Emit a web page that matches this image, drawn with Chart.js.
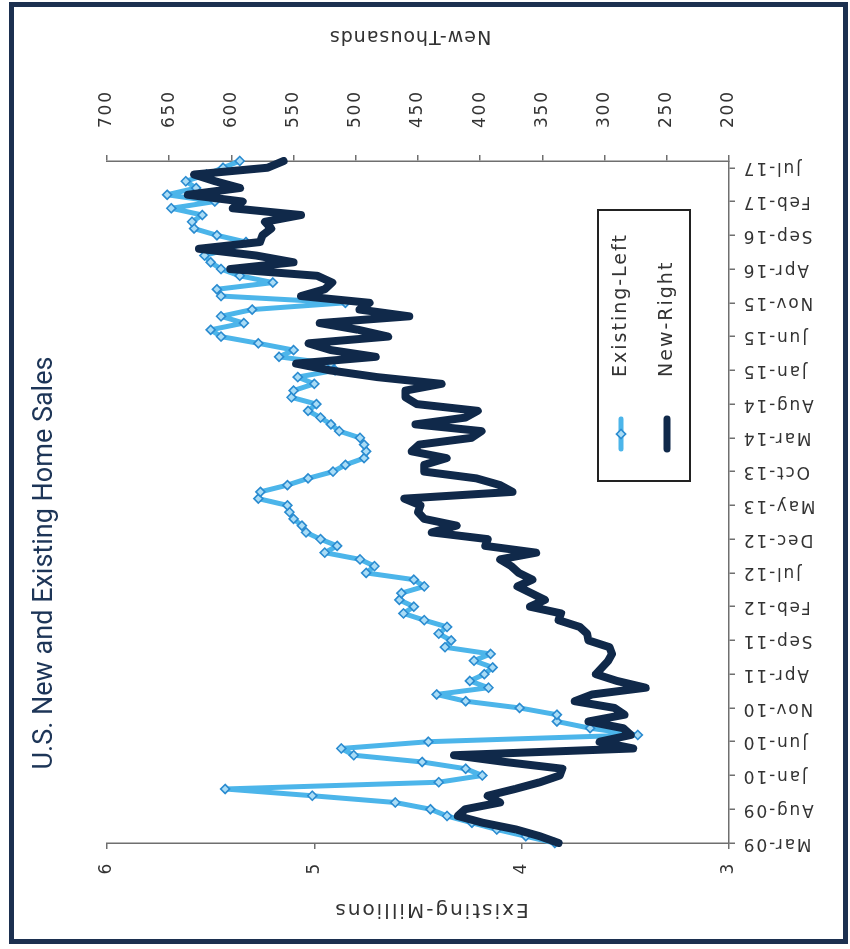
<!DOCTYPE html>
<html>
<head>
<meta charset="utf-8">
<script src="https://cdn.jsdelivr.net/npm/chart.js@4.4.1/dist/chart.umd.min.js"></script>
<style>
  html, body { margin: 0; padding: 0; background: #ffffff; overflow: hidden; }
  body { width: 850px; height: 949px; position: relative; }
  /* the chart is laid out landscape and turned a quarter turn counter-clockwise */
  #turn { position: absolute; left: 0; top: 0; width: 949px; height: 850px;
          transform-origin: 0 0; transform: translate(0px, 949px) rotate(-90deg); }
  #frame { position: absolute; left: 9px; top: 2px; width: 829px; height: 932px;
           border: 5px solid #1c3050; box-sizing: content-box; pointer-events: none; }
</style>
</head>
<body>
<div id="turn"><canvas id="c" width="949" height="850"></canvas></div>
<div id="frame"></div>
<script>
// Monthly categories, Mar-09 .. Aug-17
const months = [
  'Mar-09','Apr-09','May-09','Jun-09','Jul-09','Aug-09','Sep-09','Oct-09','Nov-09','Dec-09',
  'Jan-10','Feb-10','Mar-10','Apr-10','May-10','Jun-10','Jul-10','Aug-10','Sep-10','Oct-10','Nov-10','Dec-10',
  'Jan-11','Feb-11','Mar-11','Apr-11','May-11','Jun-11','Jul-11','Aug-11','Sep-11','Oct-11','Nov-11','Dec-11',
  'Jan-12','Feb-12','Mar-12','Apr-12','May-12','Jun-12','Jul-12','Aug-12','Sep-12','Oct-12','Nov-12','Dec-12',
  'Jan-13','Feb-13','Mar-13','Apr-13','May-13','Jun-13','Jul-13','Aug-13','Sep-13','Oct-13','Nov-13','Dec-13',
  'Jan-14','Feb-14','Mar-14','Apr-14','May-14','Jun-14','Jul-14','Aug-14','Sep-14','Oct-14','Nov-14','Dec-14',
  'Jan-15','Feb-15','Mar-15','Apr-15','May-15','Jun-15','Jul-15','Aug-15','Sep-15','Oct-15','Nov-15','Dec-15',
  'Jan-16','Feb-16','Mar-16','Apr-16','May-16','Jun-16','Jul-16','Aug-16','Sep-16','Oct-16','Nov-16','Dec-16',
  'Jan-17','Feb-17','Mar-17','Apr-17','May-17','Jun-17','Jul-17','Aug-17'
];

// Existing home sales, millions (left axis)
const existing = [
  3.84, 3.98, 4.12, 4.24, 4.36, 4.44, 4.61, 5.01, 5.43, 4.40,
  4.19, 4.27, 4.48, 4.81, 4.87, 4.45, 3.44, 3.67, 3.83, 3.83,
  4.01, 4.27, 4.41, 4.16, 4.25, 4.18, 4.14, 4.23, 4.15, 4.37,
  4.34, 4.40, 4.36, 4.47, 4.57, 4.52, 4.59, 4.58, 4.47, 4.52,
  4.75, 4.71, 4.78, 4.95, 4.89, 4.97, 5.04, 5.06, 5.10, 5.12,
  5.13, 5.27, 5.26, 5.13, 5.03, 4.91, 4.85, 4.76, 4.75, 4.76,
  4.78, 4.88, 4.92, 4.97, 5.03, 4.99, 5.11, 5.10, 5.00, 5.08,
  4.90, 4.92, 5.17, 5.10, 5.27, 5.45, 5.50, 5.34, 5.45, 5.30,
  4.85, 5.45, 5.47, 5.20, 5.36, 5.45, 5.50, 5.53, 5.41, 5.33,
  5.47, 5.58, 5.59, 5.54, 5.69, 5.48, 5.71, 5.57, 5.62, 5.52,
  5.44, 5.36
];

// New home sales, thousands (right axis)
const newSales = [
  337, 352, 371, 398, 418, 412, 384, 394, 372, 352,
  336, 334, 380, 421, 277, 304, 279, 285, 313, 284,
  292, 324, 310, 267, 290, 307, 302, 297, 294, 296,
  313, 314, 320, 337, 335, 360, 348, 359, 370, 358,
  369, 375, 384, 355, 396, 394, 439, 419, 445, 450,
  448, 461, 374, 384, 403, 445, 445, 427, 455, 449,
  407, 399, 452, 412, 402, 451, 460, 460, 431, 483,
  521, 548, 484, 520, 538, 474, 498, 529, 457, 497,
  489, 544, 525, 519, 531, 601, 550, 580, 626, 577,
  575, 568, 573, 544, 599, 591, 635, 593, 613, 630,
  571, 558
];

const titleText = 'U.S. New and Existing Home Sales';
const leftTitle = 'Existing-Millions';
const rightTitle = 'New-Thousands';
const seriesNames = ['Existing-Left', 'New-Right'];

const lightBlue = '#4cb5ea';
const markerEdge = '#2a8bd0';
const markerFill = '#a9dcf6';
const navy = '#10294a';
const axisColor = '#6f6f6f';
const textColor = '#333333';
const tickFont = { family: 'DejaVu Sans', size: 17 };

function rotatedText(ctx, text, x, y, font, spacing, color) {
  ctx.save();
  ctx.translate(x, y);
  ctx.rotate(-Math.PI / 2);
  ctx.font = font;
  ctx.letterSpacing = spacing;
  ctx.fillStyle = color;
  ctx.textAlign = 'center';
  ctx.textBaseline = 'alphabetic';
  ctx.fillText(text, 0, 0);
  ctx.restore();
}

function diamond(ctx, x, y, r) {
  ctx.beginPath();
  ctx.moveTo(x, y - r); ctx.lineTo(x + r, y); ctx.lineTo(x, y + r); ctx.lineTo(x - r, y);
  ctx.closePath();
}

const decorations = {
  id: 'decorations',
  beforeUpdate(chart) { chart.ctx.letterSpacing = '1.8px'; },
  beforeDraw(chart) { chart.ctx.letterSpacing = '1.8px'; },
  afterDatasetsDraw(chart) {
    const ctx = chart.ctx;
    ctx.save();
    // legend box
    ctx.fillStyle = '#ffffff';
    ctx.fillRect(468, 598, 271, 92);
    ctx.strokeStyle = '#222222';
    ctx.lineWidth = 2;
    ctx.strokeRect(468, 598, 271, 92);
    ctx.lineCap = 'round';
    ctx.strokeStyle = lightBlue; ctx.lineWidth = 5;
    ctx.beginPath(); ctx.moveTo(500, 621); ctx.lineTo(530, 621); ctx.stroke();
    diamond(ctx, 515, 621, 4.5);
    ctx.fillStyle = markerFill; ctx.fill();
    ctx.strokeStyle = markerEdge; ctx.lineWidth = 1.6; ctx.stroke();
    ctx.strokeStyle = navy; ctx.lineWidth = 7;
    ctx.beginPath(); ctx.moveTo(500, 667); ctx.lineTo(530, 667); ctx.stroke();
    ctx.font = '19px "DejaVu Sans"';
    ctx.letterSpacing = '2px';
    ctx.fillStyle = textColor;
    ctx.textAlign = 'left';
    ctx.textBaseline = 'middle';
    ctx.fillText(seriesNames[0], 572, 621);
    ctx.fillText(seriesNames[1], 572, 667);
    ctx.restore();
  },
  afterDraw(chart) {
    const ctx = chart.ctx;
    ctx.save();
    ctx.letterSpacing = '0px';
    ctx.font = '27px Roboto';
    ctx.fillStyle = '#1d3557';
    ctx.textAlign = 'center';
    ctx.textBaseline = 'alphabetic';
    ctx.fillText(titleText, 386, 52);
    ctx.restore();
    rotatedText(ctx, leftTitle, 45, 431, '20px "DejaVu Sans"', '2px', textColor);
    rotatedText(ctx, rightTitle, 918, 410, '19px "DejaVu Sans"', '1px', textColor);
  }
};

const ctx = document.getElementById('c').getContext('2d');
new Chart(ctx, {
  type: 'line',
  data: {
    labels: months,
    datasets: [
      {
        label: seriesNames[0], data: existing, yAxisID: 'yL', order: 2,
        borderColor: lightBlue, borderWidth: 5, tension: 0,
        borderJoinStyle: 'round', borderCapStyle: 'round',
        pointStyle: 'rectRot', pointRadius: 4.5, pointBorderWidth: 1.6,
        pointBorderColor: markerEdge, pointBackgroundColor: markerFill
      },
      {
        label: seriesNames[1], data: newSales, yAxisID: 'yR', order: 1,
        borderColor: navy, borderWidth: 8, tension: 0,
        borderJoinStyle: 'round', borderCapStyle: 'round',
        pointRadius: 0
      }
    ]
  },
  options: {
    responsive: false,
    animation: false,
    devicePixelRatio: 1,
    layout: { padding: { top: 107, left: 0, right: 0, bottom: 0 } },
    plugins: { legend: { display: false }, tooltip: { enabled: false }, title: { display: false } },
    scales: {
      x: {
        type: 'category', position: 'bottom', offset: false,
        grid: { display: true, drawOnChartArea: false, drawTicks: true, tickLength: 6, color: axisColor, lineWidth: 1.5 },
        border: { display: true, color: axisColor, width: 1.5 },
        ticks: { autoSkip: false, minRotation: 90, maxRotation: 90, padding: 7, color: textColor, font: tickFont },
        afterBuildTicks: (s) => { s.ticks = s.ticks.filter(t => t.value % 5 === 0); },
        afterFit: (s) => { s.height = 121; }
      },
      yL: {
        type: 'linear', position: 'left', min: 3, max: 6,
        grid: { display: true, drawOnChartArea: false, drawTicks: true, tickLength: 6, color: axisColor, lineWidth: 1.5 },
        border: { display: true, color: axisColor, width: 1.5 },
        ticks: { stepSize: 1, padding: 13, color: textColor, font: tickFont },
        afterFit: (s) => { s.width = 106; }
      },
      yR: {
        type: 'linear', position: 'right', min: 200, max: 700,
        grid: { display: true, drawOnChartArea: false, drawTicks: true, tickLength: 6, color: axisColor, lineWidth: 1.5 },
        border: { display: true, color: axisColor, width: 1.5 },
        ticks: { stepSize: 50, padding: 27, color: textColor, font: tickFont },
        afterFit: (s) => { s.width = 161; }
      }
    }
  },
  plugins: [decorations]
});
</script>
</body>
</html>
